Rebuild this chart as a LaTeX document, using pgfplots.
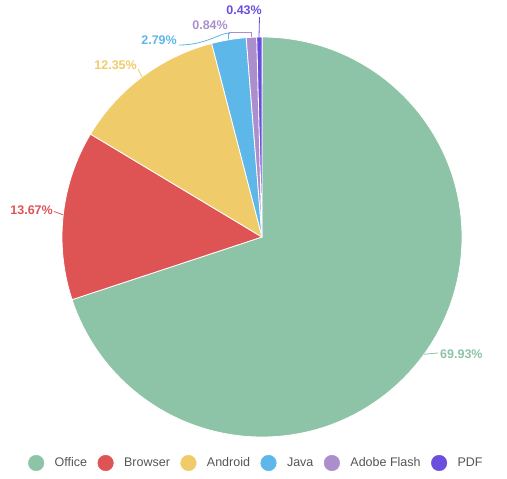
\documentclass[border=0pt]{standalone}
\usepackage{pgfplots}
\pgfplotsset{compat=1.18}
\usepackage{pgfplotstable}
\usepackage{fontspec}
\setmainfont{Liberation Sans}

\definecolor{c0}{HTML}{8DC3A7}
\definecolor{c1}{HTML}{DE5454}
\definecolor{c2}{HTML}{F0CB69}
\definecolor{c3}{HTML}{5DB7E8}
\definecolor{c4}{HTML}{AB8ECB}
\definecolor{c5}{HTML}{6B4EDE}
\definecolor{legtext}{HTML}{555555}

% share of each source, in percent
\pgfplotstableread{
name value
Office 69.93
Browser 13.67
Android 12.35
Java 2.79
Flash 0.84
PDF 0.43
}\piedata

\begin{document}
\begin{tikzpicture}
% start / mid / end angle of every slice, clockwise from 12 o'clock
\def\cumangle{90}
\pgfplotsforeachungrouped \i in {0,...,5}{%
  \pgfplotstablegetelem{\i}{value}\of\piedata
  \expandafter\xdef\csname pv\i\endcsname{\pgfplotsretval}
  \pgfmathsetmacro\sliceang{3.6*\pgfplotsretval}
  \expandafter\xdef\csname aS\i\endcsname{\cumangle}
  \pgfmathsetmacro\midang{\cumangle-\sliceang/2}
  \expandafter\xdef\csname aM\i\endcsname{\midang}
  \pgfmathsetmacro\cumangle{\cumangle-\sliceang}
  \expandafter\xdef\csname aE\i\endcsname{\cumangle}
}
\begin{axis}[
  width=507bp, height=479bp, scale only axis,
  xmin=0, xmax=507, ymin=0, ymax=479, y dir=reverse,
  hide axis, clip=false,
  legend columns=-1,
  legend style={draw=none, fill=none, at={(0.0552,0.0334)}, anchor=west,
    inner sep=0pt, font=\fontsize{12.5bp}{14bp}\selectfont, text=legtext,
    nodes={inner xsep=0pt, inner ysep=1pt},
    /tikz/every even column/.append style={column sep=10.5bp},
    /tikz/every odd column/.append style={column sep=10.5bp}},
  legend image code/.code={\fill[#1] (7.7bp,0bp) circle[radius=7.8bp];},
]
\path (rel axis cs:0,0) rectangle (rel axis cs:1,1);
\pgfplotsinvokeforeach{0,...,5}{
  \fill[c#1, draw=white, line width=0.8bp, line join=round]
    (axis cs:262,237) -- ++(\csname aS#1\endcsname:200bp)
    arc[start angle=\csname aS#1\endcsname, end angle=\csname aE#1\endcsname, radius=200bp] -- cycle;
}
\tikzset{lab/.style={inner sep=0pt, font=\fontsize{12.5bp}{14bp}\selectfont\bfseries}}
% Office
\draw[c0, line width=0.8bp] (axis cs:262,237) ++(\csname aM0\endcsname:200bp) -- (axis cs:438,353);
\node[lab, text=c0, anchor=west] at (axis cs:440,354) {\csname pv0\endcsname\%};
% Browser
\draw[c1, line width=0.8bp] (axis cs:262,237) ++(\csname aM1\endcsname:200bp) -- (axis cs:54,211.5);
\node[lab, text=c1, anchor=east] at (axis cs:53,210.5) {\csname pv1\endcsname\%};
% Android
\draw[c2, line width=0.8bp] (axis cs:262,237) ++(\csname aM2\endcsname:200bp) -- (axis cs:138,69);
\node[lab, text=c2, anchor=east] at (axis cs:137,65) {\csname pv2\endcsname\%};
% Java
\draw[c3, line width=0.8bp] (axis cs:179,45) .. controls (axis cs:205,45) and (axis cs:218,34) .. (axis cs:228.5,33) -- (axis cs:228.5,39.5);
\node[lab, text=c3, anchor=east] at (axis cs:177,40) {\csname pv3\endcsname\%};
% Adobe Flash
\draw[c4, line width=0.8bp] (axis cs:229,34) -- (axis cs:229,32) -- (axis cs:251,32) -- (axis cs:251,37);
\node[lab, text=c4, anchor=east] at (axis cs:228,25) {\csname pv4\endcsname\%};
% PDF
\draw[c5, line width=0.8bp] (axis cs:259.5,17) -- (axis cs:259,37);
\node[lab, text=c5, anchor=east] at (axis cs:262,10) {\csname pv5\endcsname\%};
\addlegendimage{c0}\addlegendentry{Office}
\addlegendimage{c1}\addlegendentry{Browser}
\addlegendimage{c2}\addlegendentry{Android}
\addlegendimage{c3}\addlegendentry{Java}
\addlegendimage{c4}\addlegendentry{Adobe Flash}
\addlegendimage{c5}\addlegendentry{PDF}
\end{axis}
\end{tikzpicture}
\end{document}
